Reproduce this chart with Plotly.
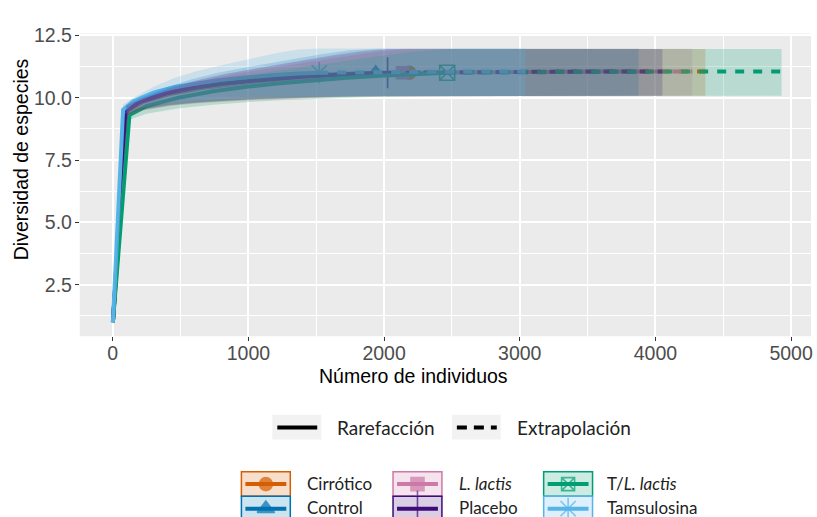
import plotly.graph_objects as go

W, H = 817, 517

# ---- groups, colours, symbols -------------------------------------------
GROUPS = ["Cirrótico", "Control", "L. lactis", "Placebo", "T/L. lactis", "Tamsulosina"]
LABELS = ["Cirrótico", "Control", "<i>L. lactis</i>", "Placebo", "T/<i>L. lactis</i>", "Tamsulosina"]
COLORS = ["#D55E00", "#0072B2", "#CC79A7", "#3F0A7A", "#009E73", "#56B4E9"]
SYMBOLS = ["circle", "triangle-up", "square", "cross-thin-open", "square-x-open", "asterisk-open"]
SYM_SIZE = [13, 14, 12, 22, 15, 18]

# reference sample size (individuals) and observed richness
SAMPLE_SIZE = [2184, 1938, 2136, 2026, 2465, 1522]
OBSERVED = [11.0, 11.0, 11.0, 11.0, 11.0, 11.0]

# ---- rarefaction / extrapolation curves (m, qD, 95% CI) -----------------
CIRR_M = [1, 109, 218, 437, 655, 874, 1092, 1310, 1529, 1747, 1966, 2184, 2730, 3276, 3822, 4368]
CIRR_QD = [1.0, 9.46, 9.82, 10.17, 10.39, 10.55, 10.67, 10.76, 10.84, 10.91, 10.96, 11.0, 11.03, 11.04, 11.05, 11.05]
CIRR_LCL = [1.0, 9.27, 9.49, 9.68, 9.79, 9.86, 9.92, 9.97, 10.01, 10.04, 10.06, 10.08, 10.08, 10.08, 10.08, 10.08]
CIRR_UCL = [1.0, 9.66, 9.94, 10.34, 10.66, 10.92, 11.12, 11.32, 11.50, 11.68, 11.85, 11.95, 11.95, 11.95, 11.95, 11.95]

CTRL_M = [1, 97, 194, 388, 581, 775, 969, 1163, 1357, 1550, 1744, 1938, 2423, 2907, 3392, 3876]
CTRL_QD = [1.0, 9.49, 9.84, 10.19, 10.41, 10.56, 10.68, 10.77, 10.85, 10.91, 10.96, 11.0, 11.03, 11.04, 11.05, 11.05]
CTRL_LCL = [1.0, 9.29, 9.51, 9.70, 9.80, 9.87, 9.93, 9.97, 10.01, 10.04, 10.06, 10.08, 10.08, 10.08, 10.08, 10.08]
CTRL_UCL = [1.0, 9.70, 9.98, 10.40, 10.74, 11.00, 11.20, 11.40, 11.57, 11.75, 11.90, 11.96, 11.96, 11.96, 11.96, 11.96]

LLAC_M = [1, 107, 214, 427, 641, 854, 1068, 1282, 1495, 1709, 1922, 2136, 2670, 3204, 3738, 4272]
LLAC_QD = [1.0, 9.48, 9.84, 10.19, 10.41, 10.56, 10.68, 10.77, 10.85, 10.91, 10.96, 11.0, 11.03, 11.04, 11.05, 11.05]
LLAC_LCL = [1.0, 9.28, 9.50, 9.69, 9.80, 9.87, 9.93, 9.97, 10.01, 10.04, 10.06, 10.08, 10.08, 10.08, 10.08, 10.08]
LLAC_UCL = [1.0, 9.70, 9.98, 10.40, 10.72, 10.97, 11.17, 11.37, 11.55, 11.73, 11.88, 11.96, 11.96, 11.96, 11.96, 11.96]

PLAC_M = [1, 101, 203, 405, 608, 810, 1013, 1216, 1418, 1621, 1823, 2026, 2533, 3039, 3546, 4052]
PLAC_QD = [1.0, 9.47, 9.83, 10.18, 10.40, 10.56, 10.67, 10.77, 10.85, 10.91, 10.96, 11.0, 11.03, 11.04, 11.05, 11.05]
PLAC_LCL = [1.0, 9.28, 9.50, 9.69, 9.80, 9.87, 9.93, 9.97, 10.01, 10.04, 10.06, 10.08, 10.08, 10.08, 10.08, 10.08]
PLAC_UCL = [1.0, 9.68, 9.96, 10.36, 10.68, 10.93, 11.13, 11.33, 11.52, 11.70, 11.86, 11.95, 11.95, 11.95, 11.95, 11.95]

TL_M = [1, 123, 247, 493, 740, 986, 1233, 1479, 1726, 1972, 2219, 2465, 3081, 3698, 4314, 4930]
TL_QD = [1.0, 9.31, 9.66, 10.01, 10.26, 10.44, 10.58, 10.70, 10.80, 10.88, 10.95, 11.0, 11.03, 11.04, 11.05, 11.05]
TL_LCL = [1.0, 9.12, 9.36, 9.58, 9.72, 9.82, 9.90, 9.96, 10.00, 10.04, 10.06, 10.08, 10.08, 10.08, 10.08, 10.08]
TL_UCL = [1.0, 9.50, 9.82, 10.26, 10.60, 10.88, 11.10, 11.30, 11.49, 11.67, 11.84, 11.95, 11.95, 11.95, 11.95, 11.95]

TAMS_M = [1, 76, 152, 304, 457, 609, 761, 913, 1065, 1218, 1370, 1522, 1903, 2283, 2664, 3044]
TAMS_QD = [1.0, 9.52, 9.86, 10.21, 10.43, 10.58, 10.69, 10.78, 10.86, 10.92, 10.97, 11.0, 11.03, 11.04, 11.05, 11.05]
TAMS_LCL = [1.0, 9.30, 9.52, 9.71, 9.81, 9.88, 9.94, 9.98, 10.02, 10.05, 10.07, 10.08, 10.08, 10.08, 10.08, 10.08]
TAMS_UCL = [1.0, 9.74, 10.00, 10.45, 10.80, 11.05, 11.25, 11.45, 11.62, 11.80, 11.93, 11.97, 11.97, 11.97, 11.97, 11.97]

CURVES = [
    (CIRR_M, CIRR_QD, CIRR_LCL, CIRR_UCL),
    (CTRL_M, CTRL_QD, CTRL_LCL, CTRL_UCL),
    (LLAC_M, LLAC_QD, LLAC_LCL, LLAC_UCL),
    (PLAC_M, PLAC_QD, PLAC_LCL, PLAC_UCL),
    (TL_M, TL_QD, TL_LCL, TL_UCL),
    (TAMS_M, TAMS_QD, TAMS_LCL, TAMS_UCL),
]

X_TICKS = [0, 1000, 2000, 3000, 4000, 5000]
Y_TICKS = [2.5, 5.0, 7.5, 10.0, 12.5]

TICK_FONT = dict(family="Arial", size=19.5, color="#4D4D4D")
TITLE_FONT = dict(family="Arial", size=19.5, color="#000000")
LEG1_FONT = dict(family="Lato", size=19, color="#222222")
LEG2_FONT = dict(family="Lato", size=17, color="#222222")


def rgba(hex_color, a):
    h = hex_color.lstrip("#")
    r, g, b = int(h[0:2], 16), int(h[2:4], 16), int(h[4:6], 16)
    return f"rgba({r},{g},{b},{a})"


def px(x):
    return x / W


def py(y):
    return 1 - y / H


fig = go.Figure()

# points at the reference sample size
for g, col, sym, sz, n, s in zip(GROUPS, COLORS, SYMBOLS, SYM_SIZE, SAMPLE_SIZE, OBSERVED):
    fig.add_trace(go.Scatter(
        x=[n], y=[s], mode="markers", name=g,
        marker=dict(symbol=sym, size=sz, color=col, line=dict(color=col, width=1.6)),
    ))

# rarefaction (solid) and extrapolation (dashed) curves
for g, col, n, (m, qd, lo, hi) in zip(GROUPS, COLORS, SAMPLE_SIZE, CURVES):
    k = m.index(n)
    fig.add_trace(go.Scatter(x=m[:k + 1], y=qd[:k + 1], mode="lines",
                             line=dict(color=col, width=4), name=g))
    fig.add_trace(go.Scatter(x=m[k:], y=qd[k:], mode="lines",
                             line=dict(color=col, width=4, dash="9px,9px"), name=g))

# confidence ribbons on top (alpha 0.2)
for g, col, (m, qd, lo, hi) in zip(GROUPS, COLORS, CURVES):
    fig.add_trace(go.Scatter(
        x=list(m) + list(m[::-1]), y=list(hi) + list(lo[::-1]),
        mode="lines", fill="toself", fillcolor=rgba(col, 0.21),
        line=dict(width=0), name=g, hoverinfo="skip",
    ))

# ---- legend keys drawn on a full-figure pixel overlay --------------------
shapes = []
annotations = []

# panel background
shapes.append(dict(type="rect", xref="x domain", yref="y domain", x0=0, x1=1, y0=0, y1=1,
                   fillcolor="#EBEBEB", line=dict(width=0), layer="below"))

# line-type legend
LT_LABELS = ["Rarefacción", "Extrapolación"]
LT_DASH = ["solid", "10px,7px"]
LT_BOX_X = [273, 453]
for lab, dash, bx in zip(LT_LABELS, LT_DASH, LT_BOX_X):
    shapes.append(dict(type="rect", xref="paper", yref="paper",
                       x0=px(bx), x1=px(bx + 49), y0=py(438), y1=py(413),
                       fillcolor="#F2F2F2", line=dict(width=0)))
    shapes.append(dict(type="line", xref="paper", yref="paper",
                       x0=px(bx + 5), x1=px(bx + 45), y0=py(426), y1=py(426),
                       line=dict(color="#000000", width=4, dash=dash)))
    annotations.append(dict(text=lab, xref="paper", yref="paper", x=px(bx + 63), y=py(426),
                            xanchor="left", yanchor="middle", showarrow=False, font=LEG1_FONT))

# group legend (3 columns x 2 rows)
COL_X = [242, 394, 545]
ROW_Y = [471, 496]
LBL_DX = [64, 64, 61]
leg_x, leg_y, leg_sym, leg_col = [], [], [], []
for i, (lab, col, sym) in enumerate(zip(LABELS, COLORS, SYMBOLS)):
    c, r = divmod(i, 2)
    x0, y0 = COL_X[c], ROW_Y[r]
    x1, y1 = x0 + 49, y0 + 25
    yc = (y0 + y1) / 2
    shapes.append(dict(type="rect", xref="paper", yref="paper",
                       x0=px(x0), x1=px(x1), y0=py(y1), y1=py(y0),
                       fillcolor=rgba(col, 0.2), line=dict(color=col, width=1.5)))
    shapes.append(dict(type="line", xref="paper", yref="paper",
                       x0=px(x0 + 4), x1=px(x1 - 4), y0=py(yc), y1=py(yc),
                       line=dict(color=col, width=4)))
    leg_x.append((x0 + x1) / 2)
    leg_y.append(yc)
    leg_sym.append(sym)
    leg_col.append(col)
    annotations.append(dict(text=lab, xref="paper", yref="paper", x=px(x0 + LBL_DX[c]), y=py(yc - 1),
                            xanchor="left", yanchor="middle", showarrow=False, font=LEG2_FONT))

LEG_SIZES = [13, 15, 13, 26, 13, 18]
fig.add_trace(go.Scatter(
    x=leg_x, y=leg_y, mode="markers", xaxis="x2", yaxis="y2", hoverinfo="skip",
    marker=dict(symbol=leg_sym, size=LEG_SIZES, color=leg_col,
                line=dict(color=leg_col, width=1.6)),
))

# axis titles
annotations.append(dict(text="Número de individuos", xref="paper", yref="paper",
                        x=px(415), y=py(373), xanchor="center", yanchor="middle",
                        showarrow=False, font=TITLE_FONT))
annotations.append(dict(text="Diversidad de especies", xref="paper", yref="paper",
                        x=px(21), y=py(153), xanchor="center", yanchor="middle",
                        textangle=-90, showarrow=False, font=TITLE_FONT))

fig.update_layout(
    width=W, height=H,
    margin=dict(l=0, r=0, t=0, b=0),
    paper_bgcolor="white",
    plot_bgcolor="rgba(0,0,0,0)",
    showlegend=False,
    xaxis=dict(
        domain=[80 / W, 813 / W], range=[-243, 5147],
        tickmode="array", tickvals=X_TICKS, ticktext=[str(v) for v in X_TICKS],
        showgrid=True, gridcolor="white", gridwidth=1.6,
        minor=dict(tickmode="linear", tick0=0, dtick=500, showgrid=True,
                   gridcolor="white", gridwidth=0.8),
        ticks="outside", ticklen=4, tickwidth=1.2, tickcolor="#333333",
        ticklabelstandoff=-5,
        zeroline=False, showline=False, tickfont=TICK_FONT, fixedrange=True,
    ),
    yaxis=dict(
        domain=[(H - 333) / H, (H - 25) / H], range=[0.44, 12.57],
        tickmode="array", tickvals=Y_TICKS, ticktext=[f"{v:.1f}" for v in Y_TICKS],
        showgrid=True, gridcolor="white", gridwidth=1.6,
        minor=dict(tickmode="linear", tick0=0, dtick=1.25, showgrid=True,
                   gridcolor="white", gridwidth=0.8),
        ticks="outside", ticklen=4, tickwidth=1.2, tickcolor="#333333",
        ticklabelstandoff=-1,
        zeroline=False, showline=False, tickfont=TICK_FONT, fixedrange=True,
    ),
    xaxis2=dict(domain=[0, 1], range=[0, W], visible=False, anchor="y2", fixedrange=True),
    yaxis2=dict(domain=[0, 1], range=[H, 0], visible=False, anchor="x2", fixedrange=True),
    shapes=shapes,
    annotations=annotations,
)

fig.write_html("out.html")
